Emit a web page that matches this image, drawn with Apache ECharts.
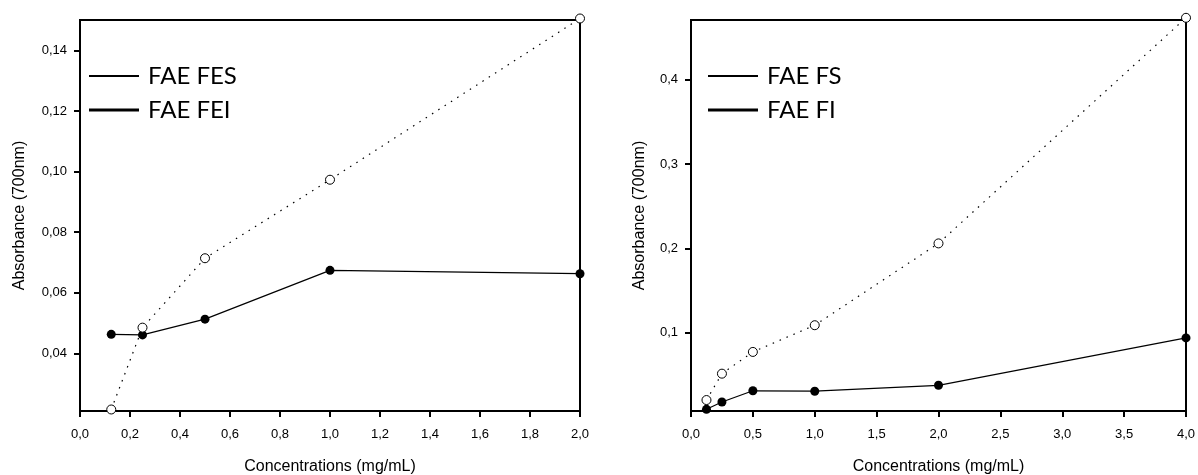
<!DOCTYPE html>
<html>
<head>
<meta charset="utf-8">
<script src="https://cdn.jsdelivr.net/npm/echarts@6/dist/echarts.min.js"></script>
<style>
  html, body { margin: 0; padding: 0; background: #fff; }
  #chart { width: 1198px; height: 475px; }
</style>
</head>
<body>
<div id="chart"></div>
<script>
// left panel
const concLeft = [0.125, 0.25, 0.5, 1, 2]
const fesValues = [0.0215, 0.0485, 0.0714, 0.0973, 0.1505]
const feiValues = [0.0463, 0.0461, 0.0513, 0.0674, 0.0663]
const leftXTicks = [0, 0.2, 0.4, 0.6, 0.8, 1.0, 1.2, 1.4, 1.6, 1.8, 2.0]
const leftYTicks = [0.04, 0.06, 0.08, 0.10, 0.12, 0.14]

// right panel
const concRight = [0.125, 0.25, 0.5, 1, 2, 4]
const fsValues = [0.0200, 0.0513, 0.0771, 0.1088, 0.2059, 0.4736]
const fiValues = [0.0090, 0.0177, 0.0310, 0.0305, 0.0375, 0.0937]
const rightXTicks = [0, 0.5, 1.0, 1.5, 2.0, 2.5, 3.0, 3.5, 4.0]
const rightYTicks = [0.1, 0.2, 0.3, 0.4]

const xTitle = 'Concentrations (mg/mL)'
const yTitle = 'Absorbance (700nm)'

const tickFont = { fontFamily: 'Liberation Sans', fontSize: 13, color: '#000' }
const nameFont = { fontFamily: 'Liberation Sans', fontSize: 16, color: '#000' }
const comma = (d) => (v) => v.toFixed(d).replace('.', ',')

function pairs(xs, ys) {
  return xs.map((x, i) => [x, ys[i]])
}

function xAxisOf(idx, max, ticks) {
  return {
    type: 'value', gridIndex: idx, min: 0, max: max,
    name: xTitle, nameLocation: 'middle', nameGap: 48, nameTextStyle: nameFont,
    axisLine: { show: true, onZero: false, lineStyle: { color: '#000', width: 2 } },
    axisTick: { show: true, length: 6, customValues: ticks, lineStyle: { color: '#000', width: 2 } },
    axisLabel: Object.assign({ margin: 17, customValues: ticks, formatter: comma(1) }, tickFont),
    splitLine: { show: false }
  }
}

function yAxisOf(idx, min, max, ticks, digits, gap) {
  return {
    type: 'value', gridIndex: idx, min: min, max: max,
    name: yTitle, nameLocation: 'middle', nameGap: gap, nameTextStyle: nameFont,
    axisLine: { show: true, onZero: false, lineStyle: { color: '#000', width: 2 } },
    axisTick: { show: true, length: 6, customValues: ticks, lineStyle: { color: '#000', width: 2 } },
    axisLabel: Object.assign({ margin: 13, customValues: ticks, formatter: comma(digits) }, tickFont),
    splitLine: { show: false }
  }
}

function openSeries(name, idx, data) {
  return {
    name: name, type: 'line', xAxisIndex: idx, yAxisIndex: idx, data: data,
    symbol: 'circle', symbolSize: 9, clip: false, z: 3,
    lineStyle: { color: '#000', width: 1.2, type: [1.5, 6] },
    itemStyle: { color: '#fff', borderColor: '#000', borderWidth: 1 }
  }
}

function filledSeries(name, idx, data) {
  return {
    name: name, type: 'line', xAxisIndex: idx, yAxisIndex: idx, data: data,
    symbol: 'circle', symbolSize: 9, clip: false, z: 2,
    lineStyle: { color: '#000', width: 1.2 },
    itemStyle: { color: '#000' }
  }
}

function legendOf(name, left, top, thick) {
  return {
    data: [name], left: left, top: top, padding: 0,
    icon: 'rect', itemWidth: 50, itemHeight: thick, itemGap: 0,
    selectedMode: false,
    itemStyle: { color: '#000', borderWidth: 0 },
    textStyle: { fontFamily: 'Lato', fontSize: 24, color: '#000', padding: [0, 0, 0, 4] }
  }
}

const chart = echarts.init(document.getElementById('chart'), null, { renderer: 'canvas' })
chart.setOption({
  animation: false,
  backgroundColor: '#fff',
  grid: [
    { left: 80, top: 20, width: 500, height: 391, show: true, borderColor: '#000', borderWidth: 2, outerBoundsMode: 'none', containLabel: false },
    { left: 691, top: 20, width: 495, height: 391, show: true, borderColor: '#000', borderWidth: 2, outerBoundsMode: 'none', containLabel: false }
  ],
  legend: [
    legendOf('FAE FES', 89, 64, 2),
    legendOf('FAE FEI', 89, 98, 3),
    legendOf('FAE FS', 708, 64, 2),
    legendOf('FAE FI', 708, 98, 3)
  ],
  xAxis: [
    xAxisOf(0, 2, leftXTicks),
    xAxisOf(1, 4, rightXTicks)
  ],
  yAxis: [
    yAxisOf(0, 0.021, 0.15, leftYTicks, 2, 52),
    yAxisOf(1, 0.007, 0.471, rightYTicks, 1, 43)
  ],
  series: [
    openSeries('FAE FES', 0, pairs(concLeft, fesValues)),
    filledSeries('FAE FEI', 0, pairs(concLeft, feiValues)),
    openSeries('FAE FS', 1, pairs(concRight, fsValues)),
    filledSeries('FAE FI', 1, pairs(concRight, fiValues))
  ]
})
</script>
</body>
</html>
